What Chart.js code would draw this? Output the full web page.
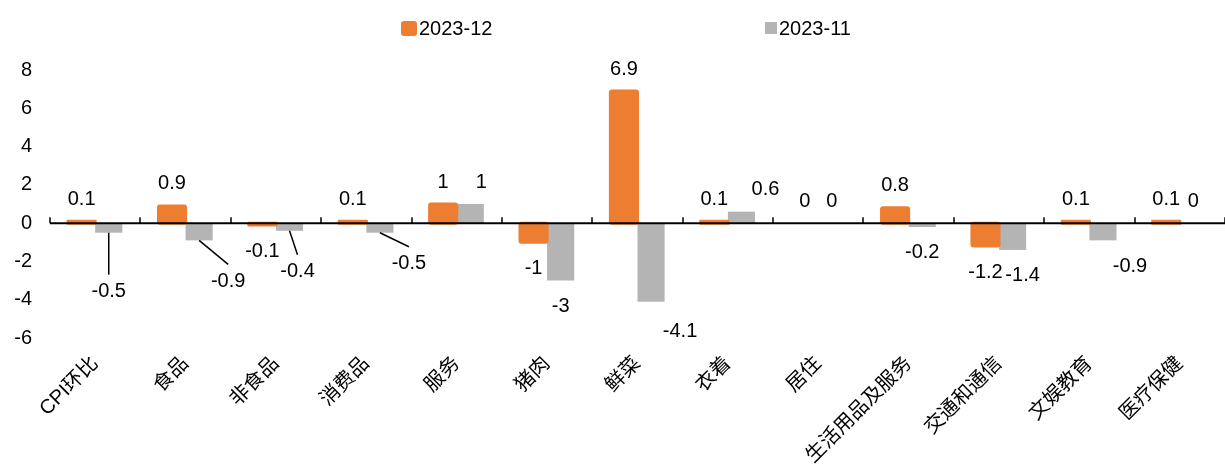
<!DOCTYPE html>
<html>
<head>
<meta charset="utf-8">
<script src="https://cdn.jsdelivr.net/npm/chart.js@4.4.0/dist/chart.umd.min.js"></script>
<style>
  body { margin: 0; background: #fff; }
  #wrap { position: relative; width: 1225px; height: 470px; }
  .legend { position: absolute; top: 16px; height: 24px; line-height: 24px; display: flex; align-items: center;
            font: 20px "Liberation Sans", Arial, sans-serif; color: #000; }
  .legend .box { display: inline-block; margin-right: 2px; }
</style>
</head>
<body>
<div id="wrap">
  <canvas id="cpiChart" width="1225" height="470"></canvas>
  <div class="legend" style="left:401px"><span class="box" style="width:16px;height:15px;background:#ED7D31;border-radius:3px"></span>2023-12</div>
  <div class="legend" style="left:765px"><span class="box" style="width:12px;height:12px;background:#B4B4B4"></span>2023-11</div>
</div>
<script>
// categories + series
const categories = ['CPI环比', '食品', '非食品', '消费品', '服务', '猪肉', '鲜菜', '衣着', '居住', '生活用品及服务', '交通和通信', '文娱教育', '医疗保健'];
const dec2023 = [0.1, 0.9, -0.1, 0.1, 1, -1, 6.9, 0.1, 0, 0.8, -1.2, 0.1, 0.1];
const nov2023 = [-0.5, -0.9, -0.4, -0.5, 1, -3, -4.1, 0.6, 0, -0.2, -1.4, -0.9, 0];

// y axis range
const yMin = -6;
const yMax = 8;
const yStep = 2;

// label nudges for the 2023-11 series (px), and which of them get a leader line
const novLabelDx = [0, 29, 8, 29, 11, 0, 29, 24, 0, 0, 10, 27, 0];
const novLabelDy = [33, 15, 15, 5, 0, 0, 4, 0, 0, 0, 0, 0, 0];
const novLeaders = [0, 1, 2, 3];

const fontFamily = '"Liberation Sans", Arial, "Noto Sans CJK SC", sans-serif';

// zero line with small tick marks between categories
const zeroAxis = {
  id: 'zeroAxis',
  afterDatasetsDraw(chart) {
    const { ctx, chartArea, scales: { x, y } } = chart;
    const y0 = y.getPixelForValue(0);
    ctx.save();
    ctx.strokeStyle = '#000';
    ctx.lineWidth = 2;
    ctx.beginPath();
    ctx.moveTo(chartArea.left, y0);
    ctx.lineTo(chartArea.right, y0);
    ctx.stroke();
    const step = x.getPixelForValue(1) - x.getPixelForValue(0);
    ctx.lineWidth = 1.5;
    ctx.beginPath();
    for (let i = 0; i <= categories.length; i++) {
      const px = Math.round(x.getPixelForValue(0) - step / 2 + i * step);
      ctx.moveTo(px, y0);
      ctx.lineTo(px, y0 - 6);
    }
    ctx.stroke();
    ctx.restore();
  }
};

// value labels (no datalabels plugin available offline)
const valueLabels = {
  id: 'valueLabels',
  afterDatasetsDraw(chart) {
    const { ctx } = chart;
    ctx.save();
    ctx.font = '20px ' + fontFamily;
    ctx.fillStyle = '#000';
    ctx.strokeStyle = '#000';
    ctx.textAlign = 'center';
    ctx.textBaseline = 'middle';
    chart.data.datasets.forEach((ds, di) => {
      const meta = chart.getDatasetMeta(di);
      meta.data.forEach((bar, i) => {
        const v = ds.data[i];
        let lx = bar.x;
        let ly = v >= 0 ? bar.y - 22 : bar.y + 26;
        if (di === 1) {
          lx += novLabelDx[i];
          ly += novLabelDy[i];
          if (novLeaders.includes(i)) {
            ctx.lineWidth = 1.5;
            ctx.beginPath();
            ctx.moveTo(bar.x, bar.y);
            ctx.lineTo(lx, ly - 17);
            ctx.stroke();
          }
        }
        ctx.fillText(String(v), lx, ly);
      });
    });
    ctx.restore();
  }
};

new Chart(document.getElementById('cpiChart'), {
  type: 'bar',
  data: {
    labels: categories,
    datasets: [
      {
        label: '2023-12',
        data: dec2023,
        backgroundColor: '#ED7D31',
        borderRadius: 3,
        borderSkipped: false,
        // orange bars in the picture carry a thin outline; none for zero values
        inflateAmount: (c) => (c.raw === 0 ? 0 : 1.5),
        barPercentage: 1,
        categoryPercentage: 0.6
      },
      {
        label: '2023-11',
        data: nov2023,
        backgroundColor: '#B4B4B4',
        borderSkipped: false,
        inflateAmount: 0,
        barPercentage: 1,
        categoryPercentage: 0.6
      }
    ]
  },
  options: {
    responsive: false,
    animation: false,
    devicePixelRatio: 1,
    layout: { padding: { top: 70, left: 0, right: 0, bottom: 0 } },
    plugins: {
      legend: { display: false },
      tooltip: { enabled: false }
    },
    scales: {
      x: {
        grid: { display: false },
        border: { display: false },
        ticks: {
          autoSkip: false,
          minRotation: 45,
          maxRotation: 45,
          padding: 6,
          color: '#000',
          font: { size: 20, family: fontFamily }
        },
        afterFit(scale) { scale.height = 132; }
      },
      y: {
        min: yMin,
        max: yMax,
        grid: { display: false, drawTicks: false },
        border: { display: false },
        ticks: {
          stepSize: yStep,
          padding: 18,
          color: '#000',
          font: { size: 20, family: fontFamily }
        },
        afterFit(scale) { scale.width = 50; }
      }
    }
  },
  plugins: [zeroAxis, valueLabels]
});
</script>
</body>
</html>
